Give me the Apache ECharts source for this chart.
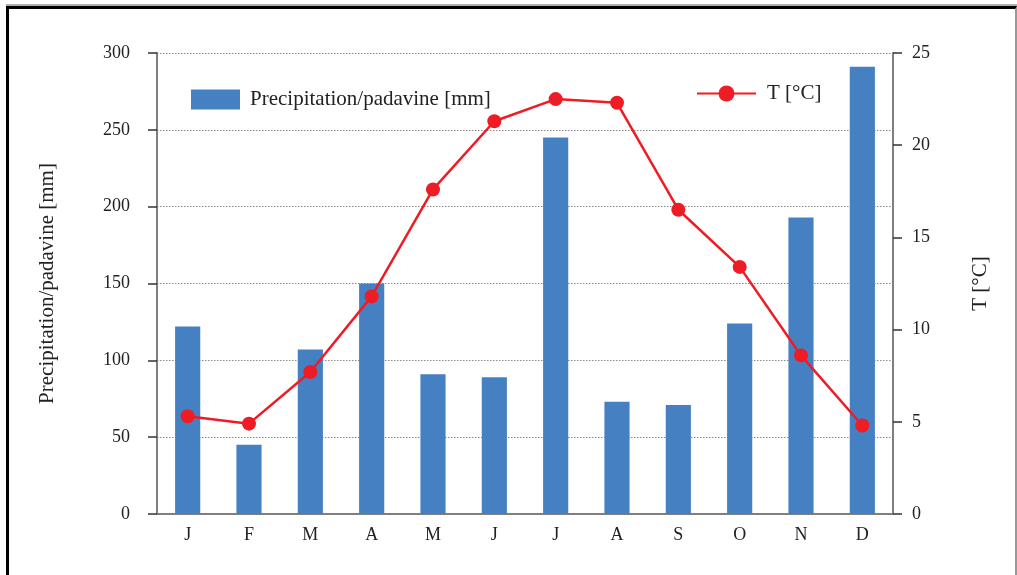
<!DOCTYPE html>
<html><head><meta charset="utf-8">
<script src="https://cdn.jsdelivr.net/npm/echarts@6/dist/echarts.min.js"></script>
<style>
html,body{margin:0;padding:0;background:#fff;width:1017px;height:575px;overflow:hidden}
#topline{position:absolute;left:6px;top:4px;width:1011px;height:2px;background:#b0b0b0}
#frame{position:absolute;left:6px;top:6px;width:1011px;height:580px;border-top:3px solid #000;border-left:3px solid #000;border-right:2px solid #999;box-sizing:border-box}
#c{position:absolute;left:0;top:0;width:1017px;height:575px}
</style></head>
<body>
<div id="topline"></div>
<div id="frame"></div>
<div id="c"></div>
<script>
const months = ['J','F','M','A','M','J','J','A','S','O','N','D'];
const precipitation = [122, 45, 107, 150, 91, 89, 245, 73, 71, 124, 193, 291];
const temperature = [5.3, 4.9, 7.7, 11.8, 17.6, 21.3, 22.5, 22.3, 16.5, 13.4, 8.6, 4.8];
const precipName = 'Precipitation/padavine [mm]';
const tempName = 'T [°C]';

const font = 'Liberation Serif';
const chart = echarts.init(document.getElementById('c'), null, {renderer:'canvas'});
chart.setOption({
  animation: false,
  backgroundColor: 'transparent',
  textStyle: {fontFamily: font},
  grid: {left: 157, right: 124, top: 53, bottom: 61, containLabel: false},
  legend: [
    {data: [{name: precipName, icon: 'rect'}], left: 186, top: 84, itemWidth: 49, itemHeight: 20, itemGap: 10,
     textStyle: {fontFamily: font, fontSize: 21, color: '#222', padding: [2, 0, 0, 5]}},
    {data: [tempName], left: 691, top: 78, itemWidth: 59, itemHeight: 20,
     textStyle: {fontFamily: font, fontSize: 21, color: '#222', padding: [0, 0, 0, 6]}}
  ],
  xAxis: {
    type: 'category', data: months,
    axisLine: {lineStyle: {color: '#7f7f7f', width: 2}},
    axisTick: {show: false},
    axisLabel: {fontFamily: font, fontSize: 18, color: '#222', margin: 12}
  },
  yAxis: [
    {type: 'value', min: 0, max: 300, interval: 50, name: precipName,
     nameLocation: 'middle', nameGap: 99, nameRotate: 90,
     nameTextStyle: {fontFamily: font, fontSize: 21, color: '#222'},
     axisLine: {show: true, lineStyle: {color: '#7f7f7f', width: 2}},
     axisTick: {show: true, length: 9, lineStyle: {color: '#333', width: 1.5}},
     axisLabel: {fontFamily: font, fontSize: 18, color: '#222', margin: 27},
     splitLine: {show: true, lineStyle: {color: '#888', type: [1.5, 1.5], width: 1}}
    },
    {type: 'value', min: 0, max: 25, interval: 5, name: tempName,
     nameLocation: 'middle', nameGap: 77, nameRotate: 90,
     nameTextStyle: {fontFamily: font, fontSize: 21, color: '#222'},
     axisLine: {show: true, lineStyle: {color: '#7f7f7f', width: 2}},
     axisTick: {show: true, length: 9, lineStyle: {color: '#333', width: 1.5}},
     axisLabel: {fontFamily: font, fontSize: 18, color: '#222', margin: 19},
     splitLine: {show: false}
    }
  ],
  series: [
    {name: precipName, type: 'bar', data: precipitation, yAxisIndex: 0,
     barWidth: '41%', itemStyle: {color: '#4580C2'}},
    {name: tempName, type: 'line', data: temperature, yAxisIndex: 1,
     symbol: 'circle', symbolSize: 14,
     lineStyle: {color: '#EE1C25', width: 2.5},
     itemStyle: {color: '#EE1C25'}}
  ]
});
</script>
</body></html>
